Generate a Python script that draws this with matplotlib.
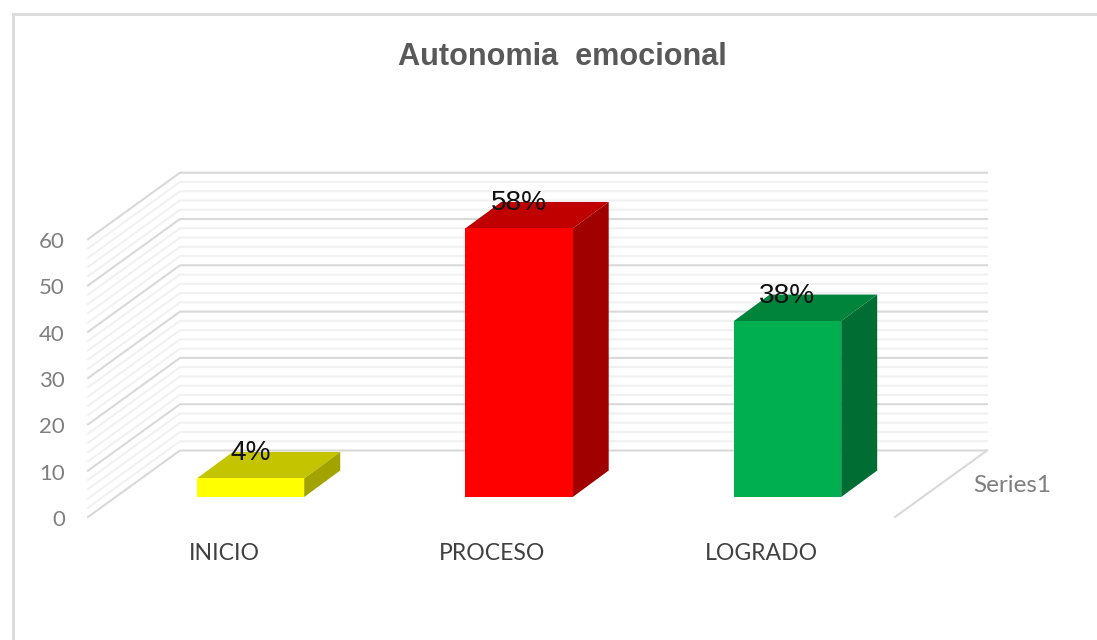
import matplotlib
matplotlib.use("Agg")
import matplotlib.pyplot as plt
from matplotlib.patches import Polygon

# chart data
categories = ["INICIO", "PROCESO", "LOGRADO"]
values = [4, 58, 38]
value_labels = ["4%", "58%", "38%"]
axis_ticks = [0, 10, 20, 30, 40, 50, 60]
minor_ticks = [2, 4, 6, 8, 12, 14, 16, 18, 22, 24, 26, 28, 32, 34, 36, 38,
               42, 44, 46, 48, 52, 54, 56, 58]
series_name = "Series1"
title = "Autonomia  emocional"

face_colors = ["#FFFF00", "#FF0000", "#00B050"]
top_colors = ["#C4C400", "#C00000", "#00843C"]
side_colors = ["#A3A300", "#A00000", "#006E32"]

W, H = 1097, 640
PX_PER_UNIT = 4.63   # pixels per percent on the value axis
PX_PER_CAT = 268.5   # pixels between two categories
BASE_Y = 497.0       # pixel row of value 0 on the bar front plane
CAT0_X = 250.5       # pixel column of the first category centre


def dx(px):
    return px / PX_PER_CAT


def dy(px):
    return px / PX_PER_UNIT


fig = plt.figure(figsize=(W / 100, H / 100), dpi=100, facecolor="white")
ax = fig.add_axes([0, 0, 1, 1])
ax.set_xlim(-dx(CAT0_X), dx(W - CAT0_X))
ax.set_ylim(dy(BASE_Y - H), dy(BASE_Y))
ax.axis("off")


def px_x(col):
    return dx(col - CAT0_X)


def px_y(row):
    return dy(BASE_Y - row)


# outer frame of the chart area (only top and left show)
ax.plot([px_x(W), px_x(12.5), px_x(12.5)], [px_y(13.5), px_y(13.5), px_y(H)],
        color="#DCDCDC", lw=2.2, solid_joinstyle="miter", zorder=1)

# walls: the value lines run along the side wall and the back wall
wall_left, wall_back, wall_right = px_x(88), px_x(180), px_x(987)
front_base = dy(BASE_Y - 517)
back_base = dy(BASE_Y - 450.5)

for v in minor_ticks:
    ax.plot([wall_left, wall_back, wall_right], [front_base + v, back_base + v, back_base + v],
            color="#F1F1F1", lw=1.5, zorder=2)
for v in axis_ticks:
    ax.plot([wall_left, wall_back, wall_right], [front_base + v, back_base + v, back_base + v],
            color="#D9D9D9", lw=1.5, zorder=3)
ax.plot([wall_right, px_x(895)], [back_base, front_base], color="#D9D9D9", lw=1.5, zorder=3)

# 3d bars
half_w = dx(53.7)
depth_x, depth_y = dx(36), dy(26.5)
for i, v in enumerate(values):
    l, r = i - half_w, i + half_w
    ax.add_patch(Polygon([(l, v), (l + depth_x, v + depth_y), (r + depth_x, v + depth_y), (r, v)],
                         closed=True, fc=top_colors[i], ec="none", zorder=5))
    ax.add_patch(Polygon([(r, 0), (r + depth_x, depth_y), (r + depth_x, v + depth_y), (r, v)],
                         closed=True, fc=side_colors[i], ec="none", zorder=5))
    ax.bar(i, v, width=2 * half_w, color=face_colors[i], linewidth=0, zorder=6)
    ax.text(i + dx(0), v + dy(25), value_labels[i], ha="center", va="center",
            family="Liberation Sans", fontsize=20.2, color="#111111", zorder=7)
    ax.text(i + dx(-26.5), dy(BASE_Y - 553), categories[i], ha="center", va="center",
            family="Lato", fontsize=16.6, color="#404040", zorder=7)

# value axis labels
for v in axis_ticks:
    ax.text(px_x(65), front_base + v - dy(3), str(v), ha="right", va="center",
            family="Lato", fontsize=16, color="#7F7F7F", zorder=7)

ax.text(px_x(1012.5), px_y(485), series_name, ha="center", va="center",
        family="Lato", fontsize=17.5, color="#7F7F7F", zorder=7)
ax.text(px_x(562.5), px_y(57), title, ha="center", va="center",
        family="Liberation Sans", fontweight="bold", fontsize=22.1, color="#595959", zorder=7)

fig.savefig("out.png", dpi=100)
